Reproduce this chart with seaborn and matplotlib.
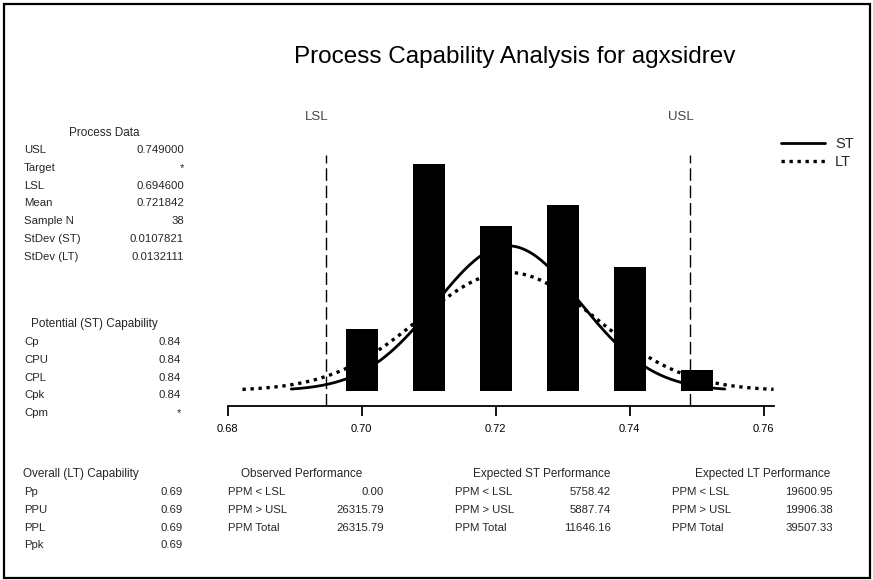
import numpy as np
import pandas as pd
import matplotlib
matplotlib.use("Agg")
import matplotlib.pyplot as plt
from matplotlib.patches import Rectangle
import seaborn as sns

# Histogram of the measurements: bin centres and counts
bin_centers = [0.70, 0.71, 0.72, 0.73, 0.74, 0.75]
bin_counts = [3, 11, 8, 9, 6, 1]
bin_width = 0.01

# Specification limits and process statistics
usl = 0.749
lsl = 0.6946
mean = 0.721842
sample_n = 38
stdev_st = 0.0107821
stdev_lt = 0.0132111

x_ticks = [0.68, 0.70, 0.72, 0.74, 0.76]
x_tick_labels = ["0.68", "0.70", "0.72", "0.74", "0.76"]

process_labels = ["USL", "Target", "LSL", "Mean", "Sample N", "StDev (ST)", "StDev (LT)"]
process_values = ["0.749000", "*", "0.694600", "0.721842", "38", "0.0107821", "0.0132111"]

potential_labels = ["Cp", "CPU", "CPL", "Cpk", "Cpm"]
potential_values = ["0.84", "0.84", "0.84", "0.84", "*"]

overall_labels = ["Pp", "PPU", "PPL", "Ppk"]
overall_values = ["0.69", "0.69", "0.69", "0.69"]

ppm_labels = ["PPM < LSL", "PPM > USL", "PPM Total"]
observed_ppm = ["0.00", "26315.79", "26315.79"]
expected_st_ppm = ["5758.42", "5887.74", "11646.16"]
expected_lt_ppm = ["19600.95", "19906.38", "39507.33"]

sns.set_theme(style="white")
plt.rcParams["font.family"] = ["Liberation Sans", "DejaVu Sans"]

W, H = 873, 580
fig = plt.figure(figsize=(W / 100, H / 100), dpi=100)
fig.patch.set_facecolor("white")


def fx(px):
    return px / W


def fy(py):
    return 1 - py / H


ax = fig.add_axes([fx(210), fy(405.7), fx(790) - fx(210), fy(150) - fy(405.7)])
ax.set_facecolor("white")

# histogram bars
hist_df = pd.DataFrame({"value": bin_centers, "count": bin_counts})
edges = [round(c - bin_width / 2, 4) for c in bin_centers] + [round(bin_centers[-1] + bin_width / 2, 4)]
sns.histplot(data=hist_df, x="value", weights="count", bins=edges, shrink=0.48,
             color="black", edgecolor="black", alpha=1, linewidth=0, ax=ax)

# fitted normal curves (short-term and long-term sigma)
curve_scale = sample_n * bin_width / 2


def normal_curve(sd):
    xs = np.linspace(mean - 3 * sd, mean + 3 * sd, 300)
    ys = curve_scale * np.exp(-0.5 * ((xs - mean) / sd) ** 2) / (sd * np.sqrt(2 * np.pi))
    return pd.DataFrame({"x": xs, "y": ys})


st_df = normal_curve(stdev_st)
lt_df = normal_curve(stdev_lt)
sns.lineplot(data=st_df, x="x", y="y", color="black", linewidth=2.0,
             estimator=None, label="ST", ax=ax)
sns.lineplot(data=lt_df, x="x", y="y", color="black", linewidth=2.4,
             linestyle=(0, (1.0, 1.4)), estimator=None, label="LT", ax=ax)

# specification limit lines
ax.vlines([lsl, usl], -0.73, 11.44, colors="black", linestyles=(0, (9, 3.5)), linewidth=1.0)

ax.set_xlim(0.67736, 0.76393)
ax.set_ylim(-0.73, 11.68)
ax.set_xlabel("")
ax.set_ylabel("")
ax.set_yticks([])
ax.set_xticks(x_ticks, x_tick_labels)
ax.tick_params(axis="x", bottom=True, direction="out", length=7.5, width=1.3,
               pad=6, labelsize=8, colors="black")
for side in ["left", "top", "right"]:
    ax.spines[side].set_visible(False)
ax.spines["bottom"].set_color("black")
ax.spines["bottom"].set_linewidth(1.3)
ax.spines["bottom"].set_bounds(0.68, 0.7615)

handles, labels = ax.get_legend_handles_labels()
ax.legend(handles, labels, loc="upper left", bbox_to_anchor=(fx(781), fy(137)),
          bbox_transform=fig.transFigure, frameon=False, fontsize=10.5,
          handlelength=3.0, handletextpad=0.7, labelspacing=0.3,
          borderpad=0, borderaxespad=0)

# title and limit labels
fig.text(fx(515), fy(57), "Process Capability Analysis for agxsidrev",
         ha="center", va="center", fontsize=17.5, color="black")
fig.text(fx(317), fy(117), "LSL", ha="center", va="center", fontsize=9.5, color="#444444")
fig.text(fx(681), fy(117), "USL", ha="center", va="center", fontsize=9.5, color="#444444")

fs_row = 8.2
fs_head = 8.5
row_step = 17.8


def table(header, header_x, header_y, labels, values, label_x, value_x, first_y):
    fig.text(fx(header_x), fy(header_y), header, ha="center", va="center", fontsize=fs_head)
    for i, (lab, val) in enumerate(zip(labels, values)):
        y = first_y + i * row_step
        fig.text(fx(label_x), fy(y), lab, ha="left", va="center", fontsize=fs_row)
        fig.text(fx(value_x), fy(y), val, ha="right", va="center", fontsize=fs_row)


table("Process Data", 104, 133, process_labels, process_values, 24, 184, 150)
table("Potential (ST) Capability", 94, 324, potential_labels, potential_values, 24, 181, 342)
table("Overall (LT) Capability", 81, 474, overall_labels, overall_values, 24, 183, 492)
table("Observed Performance", 302, 474, ppm_labels, observed_ppm, 228, 384, 492)
table("Expected ST Performance", 542, 474, ppm_labels, expected_st_ppm, 455, 611, 492)
table("Expected LT Performance", 763, 474, ppm_labels, expected_lt_ppm, 672, 833, 492)

# outer frame
fig.add_artist(Rectangle((fx(4), fy(578)), fx(870) - fx(4), fy(4) - fy(578),
                         transform=fig.transFigure, fill=False, lw=1.6, ec="black"))

fig.savefig("out.png", dpi=100)
